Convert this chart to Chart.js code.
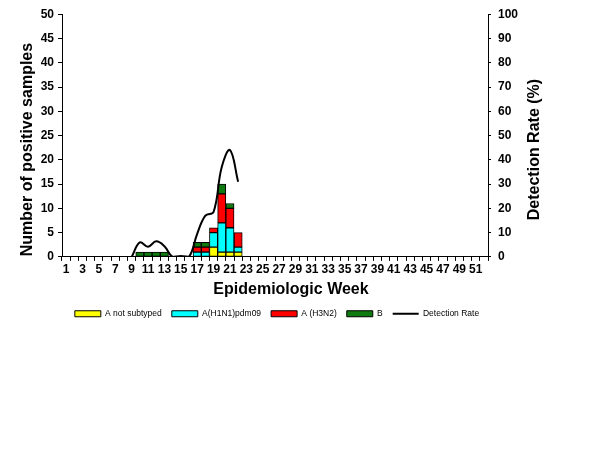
<!DOCTYPE html>
<html>
<head>
<meta charset="utf-8">
<script src="https://cdn.jsdelivr.net/npm/chart.js@4"></script>
<style>
    html, body { margin: 0; padding: 0; background: #fff; }
    #wrap { width: 614px; height: 460px; }
</style>
</head>
<body>
<div id="wrap"><canvas id="flu-chart"></canvas></div>
<script>
// epidemiologic weeks 1..52
const weeks = ['1','2','3','4','5','6','7','8','9','10','11','12','13','14','15','16','17','18','19','20',
    '21','22','23','24','25','26','27','28','29','30','31','32','33','34','35','36','37','38','39','40',
    '41','42','43','44','45','46','47','48','49','50','51','52'];

// positive samples per week (null = no bar)
const notSubtyped = [null,null,null,null,null,null,null,null,null,null,null,null,null,null,null,null,
    null,null,2,1,1,1];
const h1n1pdm09 = [null,null,null,null,null,null,null,null,null,null,null,null,null,null,null,null,
    1,1,3,6,5,1];
const h3n2 = [null,null,null,null,null,null,null,null,null,null,null,null,null,null,null,null,
    1,1,1,6,4,3];
const typeB = [null,null,null,null,null,null,null,null,null,1,1,1,1,null,null,null,
    1,1,null,2,1,null];

// detection rate (%), starts at week 9
const detectionRate = [null,null,null,null,null,null,null,null,0,6,4.2,6.4,4.4,0,0.4,0,
    9.5,17,18.5,37,44,31];

const leftTitle = 'Number of positive samples';
const rightTitle = 'Detection Rate (%)';
const xTitle = 'Epidemiologic Week';

const FONT = "'Liberation Sans', Arial, sans-serif";

// draws the three axis titles (right one reads bottom-to-top like Excel)
const axisTitles = {
    id: 'axisTitles',
    afterDraw(chart) {
        const ctx = chart.ctx;
        const area = chart.chartArea;
        const midY = (area.top + area.bottom) / 2 + 14;
        ctx.save();
        ctx.fillStyle = '#000';
        ctx.font = 'bold 16px ' + FONT;
        ctx.textAlign = 'center';
        ctx.textBaseline = 'middle';

        ctx.save();
        ctx.translate(area.left - 34, midY);
        ctx.rotate(-Math.PI / 2);
        ctx.fillText(leftTitle, 0, 0);
        ctx.restore();

        ctx.save();
        ctx.translate(area.right + 47, midY);
        ctx.rotate(-Math.PI / 2);
        ctx.fillText(rightTitle, 0, 0);
        ctx.restore();

        const xs = chart.scales.x;
        ctx.fillText(xTitle, (area.left + area.right) / 2 + 16, xs.bottom - 10);
        ctx.restore();
    }
};

function barSet(label, data, color) {
    return {
        type: 'bar',
        label: label,
        data: data,
        backgroundColor: color,
        borderColor: '#000',
        borderWidth: 1,
        borderSkipped: false,
        barPercentage: 1,
        categoryPercentage: 1,
        pointStyle: 'rect',
        yAxisID: 'y',
        order: 1
    };
}

const ctx = document.getElementById('flu-chart').getContext('2d');
const fluChart = new Chart(ctx, {
    data: {
        labels: weeks,
        datasets: [
            barSet('A not subtyped', notSubtyped, '#ffff00'),
            barSet('A(H1N1)pdm09', h1n1pdm09, '#00ffff'),
            barSet('A (H3N2)', h3n2, '#ff0000'),
            barSet('B', typeB, '#0f7a0f'),
            {
                type: 'line',
                label: 'Detection Rate',
                data: detectionRate,
                borderColor: '#000',
                backgroundColor: '#000',
                borderWidth: 2,
                pointRadius: 0,
                pointStyle: 'line',
                tension: 0.4,
                fill: false,
                yAxisID: 'y1',
                order: 0
            }
        ]
    },
    options: {
        responsive: true,
        maintainAspectRatio: false,
        animation: false,
        layout: {
            padding: { left: 8, right: 68, top: 13, bottom: 132 }
        },
        plugins: {
            tooltip: { enabled: false },
            legend: {
                position: 'bottom',
                labels: {
                    usePointStyle: true,
                    pointStyleWidth: 26,
                    boxHeight: 6,
                    padding: 10,
                    color: '#000',
                    font: { family: FONT, size: 8.5 },
                    sort: (a, b) => a.datasetIndex - b.datasetIndex
                }
            }
        },
        scales: {
            x: {
                stacked: true,
                offset: true,
                grid: {
                    offset: true,
                    drawOnChartArea: false,
                    drawTicks: true,
                    tickLength: 4,
                    color: '#000'
                },
                border: { color: '#000', width: 1 },
                ticks: {
                    autoSkip: false,
                    maxRotation: 0,
                    minRotation: 0,
                    padding: 2,
                    color: '#000',
                    font: { family: FONT, size: 12, weight: 'bold' },
                    callback: function (value, index) {
                        return index % 2 === 0 ? this.getLabelForValue(value) : '';
                    }
                },
                title: {
                    display: true,
                    text: xTitle,
                    color: 'rgba(0,0,0,0)',
                    font: { family: FONT, size: 16, weight: 'bold' },
                    padding: { top: 1, bottom: 0 }
                }
            },
            y: {
                stacked: true,
                position: 'left',
                min: 0,
                max: 50,
                grid: {
                    drawOnChartArea: false,
                    drawTicks: true,
                    tickLength: 4,
                    color: '#000'
                },
                border: { color: '#000', width: 1 },
                ticks: {
                    stepSize: 5,
                    padding: 4,
                    color: '#000',
                    font: { family: FONT, size: 12, weight: 'bold' }
                },
                afterFit(scale) { scale.width = 54; }
            },
            y1: {
                position: 'right',
                min: 0,
                max: 100,
                grid: {
                    drawOnChartArea: false,
                    drawTicks: true,
                    tickLength: 3,
                    color: '#000'
                },
                border: { color: '#000', width: 1 },
                ticks: {
                    stepSize: 10,
                    padding: 7,
                    color: '#000',
                    font: { family: FONT, size: 12, weight: 'bold' }
                },
                afterFit(scale) { scale.width = 58; }
            }
        }
    },
    plugins: [axisTitles]
});
</script>
</body>
</html>
